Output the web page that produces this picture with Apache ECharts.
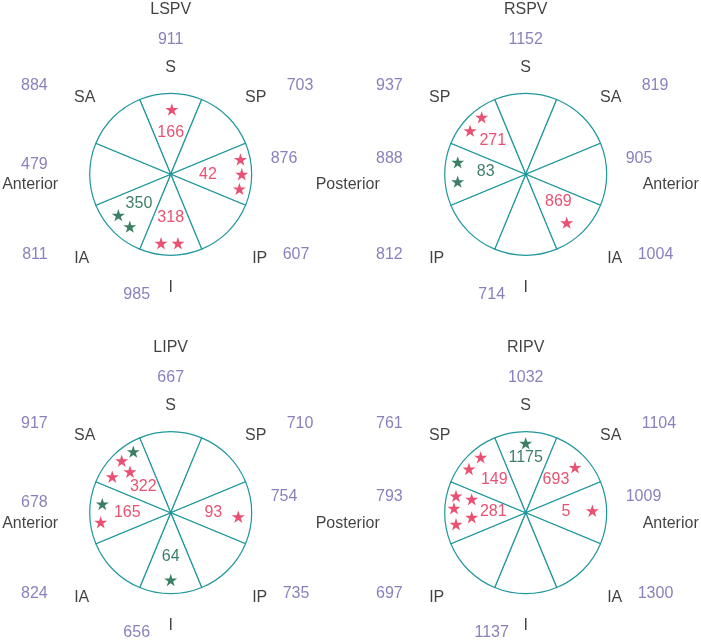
<!DOCTYPE html>
<html><head><meta charset="utf-8">
<script src="https://cdn.jsdelivr.net/npm/echarts@6/dist/echarts.min.js"></script>
<style>html,body{margin:0;padding:0;background:#fff}#c{width:701px;height:643px}</style>
</head><body><div id="c"></div>
<script>
// ---------- DATA ----------
const panelNames = ['LSPV', 'RSPV', 'LIPV', 'RIPV'];

// sector names, clockwise from the top
const lspvSectors = ['S', 'SP', 'Posterior', 'IP', 'I', 'IA', 'Anterior', 'SA'];
const rspvSectors = ['S', 'SA', 'Anterior', 'IA', 'I', 'IP', 'Posterior', 'SP'];
const lipvSectors = ['S', 'SP', 'Posterior', 'IP', 'I', 'IA', 'Anterior', 'SA'];
const ripvSectors = ['S', 'SA', 'Anterior', 'IA', 'I', 'IP', 'Posterior', 'SP'];

// outer (purple) numbers, same order as the sectors
const lspvOuter = [911, 703, 876, 607, 985, 811, 479, 884];
const rspvOuter = [1152, 819, 905, 1004, 714, 812, 888, 937];
const lipvOuter = [667, 710, 754, 735, 656, 824, 678, 917];
const ripvOuter = [1032, 1104, 1009, 1300, 1137, 697, 793, 761];

// inner numbers: value, colour, [radius fraction, angle deg clockwise from top]
const lspvValues = [166, 42, 318, 350];
const lspvValueColors = ['red', 'red', 'red', 'green'];
const lspvValuePos = [[0.51, 0], [0.46, 91], [0.53, 180], [0.536, 227]];
const rspvValues = [271, 83, 869];
const rspvValueColors = ['red', 'green', 'red'];
const rspvValuePos = [[0.58, 315.5], [0.495, 274.3], [0.526, 130]];
const lipvValues = [322, 165, 93, 64];
const lipvValueColors = ['red', 'red', 'red', 'green'];
const lipvValuePos = [[0.466, 313.5], [0.536, 270], [0.526, 90], [0.543, 180]];
const ripvValues = [1175, 149, 693, 5, 281];
const ripvValueColors = ['green', 'red', 'red', 'red', 'red'];
const ripvValuePos = [[0.684, 0], [0.56, 316.2], [0.55, 42.8], [0.498, 88.6], [0.40, 271.8]];

// stars: [radius fraction, angle]
const lspvStars = [[0.80, 1], [0.88, 78], [0.877, 90], [0.867, 102], [0.86, 188], [0.856, 174], [0.82, 232], [0.82, 218]];
const lspvStarColors = ['red', 'red', 'red', 'red', 'red', 'red', 'green', 'green'];
const rspvStars = [[0.889, 322.3], [0.873, 308.1], [0.852, 280], [0.845, 263.8], [0.783, 139.7]];
const rspvStarColors = ['red', 'red', 'green', 'green', 'red'];
const lipvStars = [[0.884, 328.5], [0.882, 316.7], [0.713, 315.2], [0.847, 301.6], [0.851, 277.2], [0.872, 262.2], [0.836, 93.4], [0.831, 180]];
const lipvStarColors = ['green', 'red', 'red', 'red', 'green', 'red', 'red', 'green'];
const ripvStars = [[0.857, 0], [0.881, 320.9], [0.884, 307.6], [0.827, 47.4], [0.823, 88.3], [0.885, 283.5], [0.687, 283.9], [0.887, 273.5], [0.872, 260.6], [0.669, 265.1]];
const ripvStarColors = ['green', 'red', 'red', 'red', 'red', 'red', 'red', 'red', 'red', 'red'];

// ---------- STYLE / LAYOUT ----------
const FONT = '"Liberation Sans", Arial, Helvetica, sans-serif';
const TEAL = '#1f979c';
const COLORS = { red: '#e2264d', green: '#0b5f3f', purple: '#6a62ad', black: '#111111' };
const R = 81;
const CENTERS = [[170.7, 174.3], [525.7, 174.3], [170.7, 512.7], [525.7, 512.7]];
const STAR = 'path://M50,0 L61.23,34.55 L97.55,34.55 L68.17,55.9 L79.39,90.45 L50,69.1 L20.61,90.45 L31.83,55.9 L2.45,34.55 L38.77,34.55 Z';

const panels = [
  { name: panelNames[0], sectors: lspvSectors, outer: lspvOuter, values: lspvValues, valueColors: lspvValueColors, valuePos: lspvValuePos, stars: lspvStars, starColors: lspvStarColors, left: true },
  { name: panelNames[1], sectors: rspvSectors, outer: rspvOuter, values: rspvValues, valueColors: rspvValueColors, valuePos: rspvValuePos, stars: rspvStars, starColors: rspvStarColors, left: false },
  { name: panelNames[2], sectors: lipvSectors, outer: lipvOuter, values: lipvValues, valueColors: lipvValueColors, valuePos: lipvValuePos, stars: lipvStars, starColors: lipvStarColors, left: true },
  { name: panelNames[3], sectors: ripvSectors, outer: ripvOuter, values: ripvValues, valueColors: ripvValueColors, valuePos: ripvValuePos, stars: ripvStars, starColors: ripvStarColors, left: false }
];

const REGION_LAYOUT = [[0, -107, 'center'], [85, -77, 'center'], null, [89, 84.5, 'center'], [0, 113, 'center'], [-89, 84.5, 'center'], null, [-86, -77, 'center']];
const NUMBER_LAYOUT = [[0, -135, 'center'], [116, -89, 'left'], [100, -16, 'left'], [112, 80.5, 'left'], [-34, 120, 'center'], [-123, 80.5, 'right'], [-123, -16, 'right'], [-123, -89, 'right']];

function toPolar(dx, dy) {
  return [Math.hypot(dx, dy) / R, (Math.atan2(dx, -dy) * 180 / Math.PI + 360) % 360];
}
function regionLayout(idx, name) {
  if (idx === 2 || idx === 6) {
    if (name === 'Anterior') return idx === 2 ? [117, 10.5, 'left'] : [-112.5, 10.5, 'right'];
    return idx === 2 ? [177, 10.5, 'center'] : null; // shared Posterior label drawn once
  }
  return REGION_LAYOUT[idx];
}

const polar = [], angleAxis = [], radiusAxis = [], series = [];
panels.forEach((p, i) => {
  const c = CENTERS[i];
  polar.push({ center: c, radius: R });
  angleAxis.push({ polarIndex: i, type: 'value', min: 0, max: 360, startAngle: 90, clockwise: true, show: false });
  radiusAxis.push({ polarIndex: i, type: 'value', min: 0, max: 1, show: false });

  series.push({
    type: 'pie', center: c, radius: R, startAngle: 112.5, clockwise: true, silent: true,
    label: { show: false }, labelLine: { show: false }, emphasis: { disabled: true },
    itemStyle: { color: '#fff', borderColor: TEAL, borderWidth: 1.2 },
    data: p.sectors.map(n => ({ name: n, value: 1 }))
  });
  series.push({
    type: 'scatter', coordinateSystem: 'polar', polarIndex: i, silent: true,
    data: [[0, 0]], symbolSize: 3, itemStyle: { color: TEAL }
  });
  series.push({
    type: 'scatter', coordinateSystem: 'polar', polarIndex: i, silent: true, clip: false,
    symbol: STAR, symbolSize: 13, symbolKeepAspect: true,
    data: p.stars.map((s, k) => ({ value: s, itemStyle: { color: COLORS[p.starColors[k]] } }))
  });
  const texts = [];
  texts.push({ name: p.name, value: toPolar(0, -165), label: { color: COLORS.black, align: 'center' } });
  p.sectors.forEach((n, k) => {
    const rl = regionLayout(k, n);
    if (rl) texts.push({ name: n, value: toPolar(rl[0], rl[1]), label: { color: COLORS.black, align: rl[2] } });
    const nl = NUMBER_LAYOUT[k];
    const dy = (n === 'Anterior' && p.left) ? -10 : nl[1];
    texts.push({ name: String(p.outer[k]), value: toPolar(nl[0], dy), label: { color: COLORS.purple, align: nl[2] } });
  });
  p.values.forEach((v, k) => {
    texts.push({ name: String(v), value: p.valuePos[k], label: { color: COLORS[p.valueColors[k]], align: 'center' } });
  });
  series.push({
    type: 'scatter', coordinateSystem: 'polar', polarIndex: i, silent: true, clip: false,
    symbolSize: 1, itemStyle: { color: 'rgba(0,0,0,0)' },
    label: { show: true, position: 'inside', formatter: '{b}', fontSize: 16, fontFamily: FONT, verticalAlign: 'middle' },
    data: texts
  });
});

const chart = echarts.init(document.getElementById('c'), null, { renderer: 'canvas' });
chart.setOption({ animation: false, backgroundColor: '#fff', polar, angleAxis, radiusAxis, series });
</script></body></html>
